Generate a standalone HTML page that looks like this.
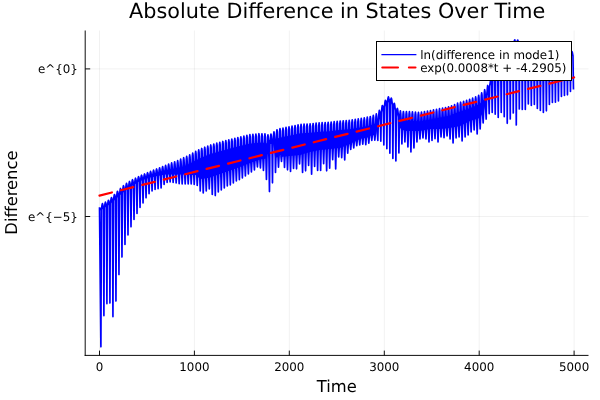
<!DOCTYPE html>
<html><head><meta charset="utf-8"><title>Absolute Difference in States Over Time</title>
<style>html,body{margin:0;padding:0;background:#fff;overflow:hidden}svg{position:absolute;left:0;top:0}</style></head>
<body>
<svg width="600" height="400" viewBox="0 0 600 400" style="display:block;font-family:'DejaVu Sans','Liberation Sans',sans-serif" text-rendering="geometricPrecision">
<rect width="600" height="400" fill="#fff"/>
<path d="M99.50 30.5 V355.4 M194.40 30.5 V355.4 M289.30 30.5 V355.4 M384.30 30.5 V355.4 M479.20 30.5 V355.4 M574.10 30.5 V355.4 M85.2 68.9 H588.5 M85.2 216.5 H588.5" stroke="#000" stroke-opacity="0.1" stroke-width="0.55" fill="none"/>
<clipPath id="c"><rect x="85.2" y="30.5" width="503.3" height="324.9"/></clipPath>
<g clip-path="url(#c)"><path d="M100.0 208.08 L101.0 207.46 L102.0 206.84 L103.0 206.27 L104.0 205.69 L105.0 205.11 L106.0 204.48 L107.0 203.84 L108.0 203.20 L109.0 202.46 L110.0 201.71 L111.0 200.81 L112.0 199.88 L113.0 198.95 L114.0 197.98 L115.0 196.96 L116.0 195.94 L117.0 194.98 L118.0 194.08 L119.0 193.18 L120.0 192.26 L121.0 191.39 L122.0 190.51 L123.0 189.67 L124.0 188.86 L125.0 188.05 L126.0 187.27 L127.0 186.53 L128.0 185.79 L129.0 185.08 L130.0 184.37 L131.0 183.78 L132.0 183.18 L133.0 182.59 L134.0 181.99 L135.0 181.48 L136.0 180.97 L137.0 180.46 L138.0 179.86 L139.0 179.26 L140.0 178.66 L141.0 178.29 L142.0 177.91 L143.0 177.54 L144.0 177.17 L145.0 176.80 L146.0 176.41 L147.0 176.03 L148.0 175.64 L149.0 175.26 L150.0 174.88 L151.0 174.57 L152.0 174.27 L153.0 173.97 L154.0 173.69 L155.0 173.40 L156.0 173.10 L157.0 172.81 L158.0 172.53 L159.0 172.23 L160.0 171.94 L161.0 171.66 L162.0 171.36 L163.0 171.08 L164.0 170.78 L165.0 170.50 L166.0 170.31 L167.0 170.13 L168.0 169.96 L169.0 169.78 L170.0 169.59 L171.0 169.41 L172.0 169.23 L173.0 169.06 L174.0 168.88 L175.0 168.69 L176.0 168.51 L177.0 168.33 L178.0 168.14 L179.0 167.93 L180.0 167.72 L181.0 167.53 L182.0 167.33 L183.0 167.03 L184.0 166.57 L185.0 166.10 L186.0 165.60 L187.0 165.10 L188.0 164.60 L189.0 164.10 L190.0 163.60 L191.0 163.04 L192.0 162.48 L193.0 161.92 L194.0 161.36 L195.0 160.80 L196.0 160.28 L197.0 159.76 L198.0 159.24 L199.0 158.72 L200.0 158.20 L201.0 157.78 L202.0 157.36 L203.0 156.94 L204.0 156.52 L205.0 156.10 L206.0 155.72 L207.0 155.34 L208.0 154.96 L209.0 154.58 L210.0 154.20 L211.0 153.90 L212.0 153.60 L213.0 153.30 L214.0 153.00 L215.0 152.70 L216.0 152.40 L217.0 152.10 L218.0 151.80 L219.0 151.50 L220.0 151.20 L221.0 150.94 L222.0 150.68 L223.0 150.42 L224.0 150.16 L225.0 149.90 L226.0 149.64 L227.0 149.38 L228.0 149.12 L229.0 148.86 L230.0 148.60 L231.0 148.34 L232.0 148.08 L233.0 147.82 L234.0 147.56 L235.0 147.30 L236.0 147.04 L237.0 146.78 L238.0 146.52 L239.0 146.26 L240.0 146.00 L241.0 145.76 L242.0 145.52 L243.0 145.28 L244.0 145.04 L245.0 144.80 L246.0 144.56 L247.0 144.32 L248.0 144.08 L249.0 143.84 L250.0 143.60 L251.0 143.50 L252.0 143.40 L253.0 143.30 L254.0 143.20 L255.0 143.10 L256.0 143.00 L257.0 142.90 L258.0 142.80 L259.0 142.70 L260.0 142.60 L261.0 142.67 L262.0 142.73 L263.0 142.80 L264.0 142.87 L265.0 142.93 L266.0 143.00 L267.0 143.44 L268.0 139.90 L269.0 139.92 L270.0 139.77 L271.0 139.54 L272.0 139.32 L273.0 138.93 L274.0 140.85 L275.0 139.97 L276.0 139.10 L277.0 138.72 L278.0 138.35 L279.0 137.97 L280.0 137.60 L281.0 137.40 L282.0 137.20 L283.0 137.00 L284.0 136.80 L285.0 136.60 L286.0 136.40 L287.0 136.20 L288.0 136.00 L289.0 135.80 L290.0 135.60 L291.0 135.38 L292.0 135.16 L293.0 134.94 L294.0 134.72 L295.0 134.50 L296.0 134.28 L297.0 134.06 L298.0 133.84 L299.0 133.62 L300.0 133.40 L301.0 133.34 L302.0 133.28 L303.0 133.22 L304.0 133.16 L305.0 133.10 L306.0 133.04 L307.0 132.98 L308.0 132.92 L309.0 132.86 L310.0 132.80 L311.0 132.70 L312.0 132.60 L313.0 132.50 L314.0 132.40 L315.0 132.30 L316.0 132.20 L317.0 132.10 L318.0 132.00 L319.0 131.90 L320.0 131.80 L321.0 131.74 L322.0 131.68 L323.0 131.62 L324.0 131.56 L325.0 131.50 L326.0 131.44 L327.0 131.38 L328.0 131.32 L329.0 131.26 L330.0 131.20 L331.0 131.08 L332.0 130.96 L333.0 130.84 L334.0 130.72 L335.0 130.60 L336.0 130.48 L337.0 130.36 L338.0 130.24 L339.0 130.12 L340.0 130.00 L341.0 129.92 L342.0 129.84 L343.0 129.76 L344.0 129.68 L345.0 129.60 L346.0 129.52 L347.0 129.44 L348.0 129.36 L349.0 129.28 L350.0 129.20 L351.0 129.04 L352.0 128.88 L353.0 128.72 L354.0 128.56 L355.0 128.40 L356.0 128.24 L357.0 128.08 L358.0 127.92 L359.0 127.76 L360.0 127.60 L361.0 127.40 L362.0 127.20 L363.0 127.00 L364.0 126.80 L365.0 126.60 L366.0 126.40 L367.0 126.20 L368.0 126.00 L369.0 125.80 L370.0 125.60 L371.0 125.20 L372.0 124.80 L373.0 124.40 L374.0 124.00 L375.0 123.60 L376.0 123.20 L377.0 121.38 L378.0 117.12 L379.0 114.19 L380.0 112.57 L381.0 110.82 L382.0 109.07 L383.0 107.32 L384.0 105.57 L385.0 103.90 L386.0 102.24 L387.0 100.57 L388.0 100.04 L389.0 99.50 L390.0 98.97 L391.0 100.50 L392.0 102.04 L393.0 103.57 L394.0 105.57 L395.0 107.57 L396.0 109.57 L397.0 111.55 L398.0 113.52 L399.0 118.15 L400.0 119.80 L401.0 120.00 L402.0 120.20 L403.0 120.40 L404.0 120.60 L405.0 120.60 L406.0 120.60 L407.0 120.60 L408.0 120.60 L409.0 120.60 L410.0 120.60 L411.0 120.68 L412.0 120.76 L413.0 120.84 L414.0 120.92 L415.0 121.00 L416.0 121.08 L417.0 121.16 L418.0 121.24 L419.0 121.32 L420.0 121.40 L421.0 121.22 L422.0 121.04 L423.0 120.86 L424.0 120.68 L425.0 120.50 L426.0 120.32 L427.0 120.14 L428.0 119.96 L429.0 119.78 L430.0 119.60 L431.0 119.40 L432.0 119.20 L433.0 119.00 L434.0 118.80 L435.0 118.60 L436.0 118.40 L437.0 118.20 L438.0 118.00 L439.0 117.80 L440.0 117.60 L441.0 117.40 L442.0 117.20 L443.0 117.00 L444.0 116.80 L445.0 116.60 L446.0 116.40 L447.0 116.20 L448.0 116.00 L449.0 115.80 L450.0 115.60 L451.0 115.15 L452.0 114.70 L453.0 114.25 L454.0 113.80 L455.0 113.35 L456.0 112.90 L457.0 112.45 L458.0 112.00 L459.0 111.70 L460.0 111.40 L461.0 111.10 L462.0 110.80 L463.0 110.50 L464.0 110.20 L465.0 109.90 L466.0 109.60 L467.0 109.22 L468.0 108.85 L469.0 108.47 L470.0 108.10 L471.0 107.72 L472.0 107.35 L473.0 106.97 L474.0 106.60 L475.0 106.10 L476.0 105.60 L477.0 105.10 L478.0 104.60 L479.0 104.10 L480.0 103.60 L481.0 102.60 L482.0 101.60 L483.0 100.60 L484.0 99.60 L485.0 97.92 L486.0 94.57 L487.0 91.22 L488.0 87.99 L489.0 85.47 L490.0 83.80 L491.0 82.00 L492.0 80.20 L493.0 78.40 L494.0 76.60 L495.0 74.80 L496.0 72.80 L497.0 70.80 L498.0 68.80 L499.0 66.81 L500.0 65.02 L501.0 63.02 L502.0 61.02 L503.0 59.02 L504.0 57.02 L505.0 55.02 L506.0 53.42 L507.0 51.82 L508.0 50.22 L509.0 48.62 L510.0 47.02 L511.0 45.91 L512.0 44.80 L513.0 43.69 L514.0 42.58 L515.0 42.30 L516.0 43.30 L517.0 42.30 L518.0 42.82 L519.0 44.42 L520.0 46.02 L521.0 47.42 L522.0 48.82 L523.0 50.22 L524.0 51.62 L525.0 53.02 L526.0 54.22 L527.0 55.42 L528.0 56.62 L529.0 57.82 L530.0 59.02 L531.0 59.42 L532.0 59.82 L533.0 60.22 L534.0 60.62 L535.0 61.02 L536.0 61.42 L537.0 61.82 L538.0 62.22 L539.0 62.62 L540.0 63.02 L541.0 63.02 L542.0 63.02 L543.0 63.02 L544.0 63.02 L545.0 63.02 L546.0 63.02 L547.0 63.02 L548.0 63.02 L549.0 63.02 L550.0 63.02 L551.0 62.72 L552.0 62.42 L553.0 62.12 L554.0 61.82 L555.0 61.52 L556.0 61.22 L557.0 60.92 L558.0 60.62 L559.0 60.32 L560.0 60.02 L561.0 59.52 L562.0 59.02 L563.0 58.52 L564.0 58.02 L565.0 57.52 L566.0 57.02 L567.0 56.52 L568.0 56.02 L569.0 55.52 L570.0 55.02 L571.0 54.52 L572.0 54.02 L573.0 53.60 L573.0 55.58 L572.0 56.00 L571.0 56.50 L570.0 57.00 L569.0 57.50 L568.0 58.00 L567.0 58.50 L566.0 59.00 L565.0 59.50 L564.0 60.00 L563.0 60.50 L562.0 61.00 L561.0 61.50 L560.0 62.00 L559.0 62.30 L558.0 62.60 L557.0 62.90 L556.0 63.20 L555.0 63.50 L554.0 63.80 L553.0 64.10 L552.0 64.40 L551.0 64.70 L550.0 65.00 L549.0 65.00 L548.0 65.00 L547.0 65.00 L546.0 65.00 L545.0 65.00 L544.0 65.00 L543.0 65.00 L542.0 65.00 L541.0 65.00 L540.0 65.00 L539.0 64.60 L538.0 64.20 L537.0 63.80 L536.0 63.40 L535.0 63.00 L534.0 62.60 L533.0 62.20 L532.0 61.80 L531.0 61.40 L530.0 61.00 L529.0 59.80 L528.0 58.60 L527.0 57.40 L526.0 56.20 L525.0 55.00 L524.0 53.60 L523.0 52.20 L522.0 50.80 L521.0 49.40 L520.0 48.00 L519.0 46.40 L518.0 44.80 L517.0 44.10 L516.0 45.10 L515.0 44.10 L514.0 44.56 L513.0 45.67 L512.0 46.78 L511.0 47.89 L510.0 49.00 L509.0 50.60 L508.0 52.20 L507.0 53.80 L506.0 55.40 L505.0 57.00 L504.0 59.00 L503.0 61.00 L502.0 63.00 L501.0 65.00 L500.0 67.00 L499.0 68.62 L498.0 70.60 L497.0 72.60 L496.0 74.60 L495.0 76.60 L494.0 78.40 L493.0 80.20 L492.0 82.00 L491.0 83.80 L490.0 85.60 L489.0 87.27 L488.0 90.50 L487.0 95.00 L486.0 100.00 L485.0 105.00 L484.0 110.00 L483.0 112.00 L482.0 114.00 L481.0 116.00 L480.0 118.00 L479.0 118.30 L478.0 118.60 L477.0 118.90 L476.0 119.20 L475.0 119.50 L474.0 119.80 L473.0 120.10 L472.0 120.40 L471.0 120.70 L470.0 121.00 L469.0 121.50 L468.0 122.00 L467.0 122.50 L466.0 123.00 L465.0 123.50 L464.0 124.00 L463.0 124.50 L462.0 125.00 L461.0 125.50 L460.0 126.00 L459.0 126.20 L458.0 126.40 L457.0 126.60 L456.0 126.80 L455.0 127.00 L454.0 127.20 L453.0 127.40 L452.0 127.60 L451.0 127.80 L450.0 128.00 L449.0 128.10 L448.0 128.20 L447.0 128.30 L446.0 128.40 L445.0 128.50 L444.0 128.60 L443.0 128.70 L442.0 128.80 L441.0 128.90 L440.0 129.00 L439.0 129.00 L438.0 129.00 L437.0 129.00 L436.0 129.00 L435.0 129.00 L434.0 129.00 L433.0 129.00 L432.0 129.00 L431.0 129.00 L430.0 129.00 L429.0 129.20 L428.0 129.40 L427.0 129.60 L426.0 129.80 L425.0 130.00 L424.0 130.20 L423.0 130.40 L422.0 130.60 L421.0 130.80 L420.0 131.00 L419.0 131.00 L418.0 131.00 L417.0 131.00 L416.0 131.00 L415.0 131.00 L414.0 131.00 L413.0 131.00 L412.0 131.00 L411.0 131.00 L410.0 131.00 L409.0 131.00 L408.0 131.00 L407.0 131.00 L406.0 131.00 L405.0 131.00 L404.0 130.45 L403.0 129.91 L402.0 129.36 L401.0 128.82 L400.0 128.27 L399.0 124.33 L398.0 117.00 L397.0 114.50 L396.0 112.00 L395.0 110.00 L394.0 108.00 L393.0 106.00 L392.0 104.47 L391.0 102.93 L390.0 101.40 L389.0 101.93 L388.0 102.47 L387.0 103.00 L386.0 104.67 L385.0 106.33 L384.0 108.00 L383.0 109.75 L382.0 111.50 L381.0 113.25 L380.0 115.00 L379.0 117.00 L378.0 121.40 L377.0 128.20 L376.0 135.00 L375.0 135.08 L374.0 135.16 L373.0 135.24 L372.0 135.56 L371.0 135.64 L370.0 135.72 L369.0 137.20 L368.0 137.40 L367.0 137.60 L366.0 137.80 L365.0 138.00 L364.0 138.20 L363.0 138.40 L362.0 138.60 L361.0 138.80 L360.0 139.00 L359.0 139.50 L358.0 140.00 L357.0 140.42 L356.0 141.00 L355.0 141.50 L354.0 142.00 L353.0 142.34 L352.0 143.00 L351.0 143.50 L350.0 144.00 L349.0 144.40 L348.0 144.80 L347.0 145.20 L346.0 145.60 L345.0 146.00 L344.0 146.40 L343.0 146.80 L342.0 147.20 L341.0 147.60 L340.0 148.00 L339.0 148.10 L338.0 148.20 L337.0 148.30 L336.0 148.40 L335.0 148.50 L334.0 148.60 L333.0 148.70 L332.0 148.80 L331.0 148.90 L330.0 149.00 L329.0 149.10 L328.0 149.20 L327.0 149.30 L326.0 149.40 L325.0 149.50 L324.0 149.60 L323.0 149.70 L322.0 149.80 L321.0 149.90 L320.0 150.00 L319.0 150.20 L318.0 150.40 L317.0 150.60 L316.0 150.80 L315.0 151.00 L314.0 151.20 L313.0 151.40 L312.0 151.60 L311.0 151.80 L310.0 152.00 L309.0 152.30 L308.0 152.60 L307.0 152.90 L306.0 153.20 L305.0 153.50 L304.0 153.80 L303.0 154.10 L302.0 154.40 L301.0 154.70 L300.0 155.00 L299.0 155.10 L298.0 155.20 L297.0 155.30 L296.0 155.40 L295.0 155.50 L294.0 155.60 L293.0 155.70 L292.0 155.80 L291.0 155.90 L290.0 156.00 L289.0 156.10 L288.0 156.20 L287.0 156.30 L286.0 156.40 L285.0 156.50 L284.0 156.60 L283.0 156.70 L282.0 156.80 L281.0 154.88 L280.0 154.92 L279.0 157.10 L278.0 157.20 L277.0 157.30 L276.0 157.40 L275.0 157.50 L274.0 148.50 L273.0 144.00 L272.0 144.00 L271.0 144.00 L270.0 144.00 L269.0 144.00 L268.0 144.00 L267.0 153.67 L266.0 158.58 L265.0 158.73 L264.0 158.88 L263.0 159.04 L262.0 159.19 L261.0 159.35 L260.0 159.50 L259.0 159.85 L258.0 160.20 L257.0 160.38 L256.0 160.90 L255.0 161.25 L254.0 161.60 L253.0 161.95 L252.0 162.30 L251.0 162.65 L250.0 163.00 L249.0 163.40 L248.0 163.80 L247.0 164.20 L246.0 164.60 L245.0 165.00 L244.0 165.40 L243.0 165.80 L242.0 166.20 L241.0 166.60 L240.0 167.00 L239.0 167.35 L238.0 167.70 L237.0 168.05 L236.0 168.40 L235.0 168.75 L234.0 169.10 L233.0 169.45 L232.0 169.80 L231.0 170.15 L230.0 170.50 L229.0 170.85 L228.0 171.20 L227.0 171.55 L226.0 171.90 L225.0 172.25 L224.0 172.60 L223.0 172.95 L222.0 173.30 L221.0 173.65 L220.0 174.00 L219.0 174.35 L218.0 174.70 L217.0 175.05 L216.0 175.40 L215.0 175.75 L214.0 176.10 L213.0 176.45 L212.0 176.80 L211.0 177.15 L210.0 177.50 L209.0 177.69 L208.0 177.88 L207.0 178.06 L206.0 178.25 L205.0 178.44 L204.0 178.62 L203.0 178.81 L202.0 179.00 L201.0 178.67 L200.0 178.33 L199.0 178.00 L198.0 177.00 L197.0 176.00 L196.0 175.00 L195.0 174.97 L194.0 174.94 L193.0 174.91 L192.0 174.88 L191.0 174.84 L190.0 174.81 L189.0 174.78 L188.0 174.75 L187.0 174.72 L186.0 174.69 L185.0 174.66 L184.0 174.62 L183.0 174.59 L182.0 174.56 L181.0 174.53 L180.0 174.50 L179.0 174.50 L178.0 174.50 L177.0 174.50 L176.0 174.50 L175.0 174.50 L174.0 174.50 L173.0 174.50 L172.0 174.50 L171.0 174.50 L170.0 174.50 L169.0 174.50 L168.0 174.50 L167.0 174.50 L166.0 174.50 L165.0 174.50 L164.0 174.70 L163.0 174.90 L162.0 175.10 L161.0 175.30 L160.0 175.50 L159.0 175.70 L158.0 175.90 L157.0 176.10 L156.0 176.30 L155.0 176.50 L154.0 176.70 L153.0 176.90 L152.0 177.10 L151.0 177.30 L150.0 177.50 L149.0 177.85 L148.0 178.20 L147.0 178.55 L146.0 178.90 L145.0 179.25 L144.0 179.60 L143.0 179.95 L142.0 180.30 L141.0 180.65 L140.0 181.00 L139.0 181.60 L138.0 182.20 L137.0 182.80 L136.0 183.40 L135.0 184.00 L134.0 184.60 L133.0 185.20 L132.0 185.80 L131.0 186.40 L130.0 187.00 L129.0 187.80 L128.0 188.60 L127.0 189.40 L126.0 190.20 L125.0 191.00 L124.0 191.80 L123.0 192.60 L122.0 193.40 L121.0 194.20 L120.0 195.00 L119.0 195.90 L118.0 196.80 L117.0 197.70 L116.0 198.60 L115.0 199.50 L114.0 200.40 L113.0 201.30 L112.0 202.20 L111.0 203.10 L110.0 204.00 L109.0 204.67 L108.0 205.33 L107.0 206.00 L106.0 206.67 L105.0 207.33 L104.0 208.00 L103.0 208.67 L102.0 209.33 L101.0 210.00 L100.0 210.67Z" fill="#0000ff"/><path d="M99.50 207.20 L100.90 346.80 L101.40 209.79 L102.04 204.91 L102.40 203.61 L102.76 204.58 L103.40 208.80 L103.91 315.60 L104.41 207.83 L105.05 203.40 L105.41 202.15 L105.77 202.97 L106.41 206.71 L106.92 303.60 L107.42 205.75 L108.06 201.51 L108.42 200.24 L108.78 200.90 L109.42 204.20 L109.93 303.00 L110.43 203.62 L111.07 198.96 L111.43 197.60 L111.79 198.27 L112.43 201.71 L112.94 316.60 L113.44 200.87 L114.08 195.97 L114.44 194.50 L114.80 195.13 L115.44 198.55 L115.95 301.00 L116.45 198.06 L117.09 192.75 L117.45 191.25 L117.81 192.10 L118.45 196.25 L118.96 274.40 L119.46 195.49 L120.10 190.03 L120.46 188.47 L120.82 189.34 L121.46 193.56 L121.97 257.00 L122.47 192.95 L123.11 187.29 L123.47 185.71 L123.83 186.69 L124.47 191.28 L124.98 244.40 L125.48 190.61 L126.12 184.93 L126.48 183.38 L126.84 184.45 L127.48 189.28 L127.99 235.00 L128.49 188.28 L129.13 182.92 L129.49 181.46 L129.85 182.50 L130.49 187.11 L131.00 226.80 L131.50 186.11 L132.14 181.07 L132.50 179.69 L132.86 180.64 L133.50 184.92 L134.01 219.50 L134.51 184.39 L135.15 179.50 L135.51 178.20 L135.87 179.21 L136.51 183.59 L137.02 213.50 L137.52 182.49 L138.16 177.94 L138.52 176.69 L138.88 177.51 L139.52 181.29 L140.03 207.50 L140.53 180.79 L141.17 176.37 L141.53 175.19 L141.89 176.08 L142.53 179.99 L143.04 203.00 L143.54 179.74 L144.18 175.20 L144.54 173.98 L144.90 174.91 L145.54 178.92 L146.05 197.84 L146.55 178.67 L147.19 173.97 L147.55 172.71 L147.91 173.66 L148.55 177.82 L149.06 193.60 L149.56 177.62 L150.20 172.73 L150.56 171.43 L150.92 172.43 L151.56 176.76 L152.07 191.00 L152.57 176.87 L153.21 171.58 L153.57 170.17 L153.93 171.29 L154.57 176.07 L155.08 189.50 L155.58 176.28 L156.22 170.50 L156.58 168.97 L156.94 170.21 L157.58 175.48 L158.09 188.72 L158.59 175.68 L159.23 169.41 L159.59 167.76 L159.95 169.12 L160.59 174.88 L161.10 188.00 L161.60 175.08 L162.24 168.33 L162.60 166.56 L162.96 168.04 L163.60 174.28 L164.11 184.40 L164.61 174.48 L165.25 167.24 L165.61 165.36 L165.97 166.96 L166.61 173.68 L167.12 182.50 L167.62 174.30 L168.26 166.25 L168.62 164.15 L168.98 165.96 L169.62 173.50 L170.13 182.00 L170.63 174.30 L171.27 165.28 L171.63 162.95 L171.99 164.99 L172.63 173.50 L173.14 182.50 L173.64 174.30 L174.28 164.32 L174.64 161.74 L175.00 164.03 L175.64 173.50 L176.15 183.00 L176.65 174.30 L177.29 163.28 L177.65 160.53 L178.01 162.96 L178.65 173.42 L179.16 183.75 L179.66 174.27 L180.30 161.89 L180.66 159.13 L181.02 161.56 L181.66 173.33 L182.17 184.00 L182.67 174.33 L183.31 160.49 L183.67 157.72 L184.03 160.15 L184.67 173.40 L185.18 184.00 L185.68 174.41 L186.32 159.04 L186.68 156.26 L187.04 158.68 L187.68 173.41 L188.19 184.00 L188.69 174.51 L189.33 157.53 L189.69 154.75 L190.05 157.17 L190.69 173.46 L191.20 184.00 L191.70 174.57 L192.34 155.89 L192.70 153.09 L193.06 155.49 L193.70 173.45 L194.21 184.50 L194.71 174.66 L195.35 154.22 L195.71 151.43 L196.07 153.84 L196.71 173.61 L197.22 185.52 L197.72 175.96 L198.36 152.65 L198.72 149.87 L199.08 152.28 L199.72 174.92 L200.23 191.00 L200.73 178.20 L201.37 151.22 L201.73 148.47 L202.09 150.92 L202.73 177.36 L203.24 193.00 L203.74 178.56 L204.38 149.96 L204.74 147.21 L205.10 149.66 L205.74 177.75 L206.25 191.00 L206.75 178.01 L207.39 148.79 L207.75 146.05 L208.11 148.52 L208.75 177.25 L209.26 189.00 L209.76 177.45 L210.40 147.68 L210.76 144.97 L211.12 147.46 L211.76 176.83 L212.27 194.40 L212.77 176.56 L213.41 146.78 L213.77 144.07 L214.13 146.56 L214.77 175.96 L215.28 195.60 L215.78 175.50 L216.42 145.87 L216.78 143.17 L217.14 145.66 L217.78 174.90 L218.29 192.00 L218.79 174.45 L219.43 144.97 L219.79 142.26 L220.15 144.76 L220.79 173.88 L221.30 190.00 L221.80 173.41 L222.44 144.17 L222.80 141.47 L223.16 143.98 L223.80 172.89 L224.31 188.00 L224.81 172.36 L225.45 143.38 L225.81 140.69 L226.17 143.20 L226.81 171.84 L227.32 186.00 L227.82 171.31 L228.46 142.60 L228.82 139.91 L229.18 142.41 L229.82 170.79 L230.33 185.00 L230.83 170.25 L231.47 141.82 L231.83 139.12 L232.19 141.63 L232.83 169.73 L233.34 183.00 L233.84 169.20 L234.48 141.04 L234.84 138.34 L235.20 140.85 L235.84 168.68 L236.35 181.00 L236.85 168.15 L237.49 140.25 L237.85 137.56 L238.21 140.07 L238.85 167.63 L239.36 179.60 L239.86 167.09 L240.50 139.48 L240.86 136.79 L241.22 139.31 L241.86 166.61 L242.37 178.00 L242.87 165.93 L243.51 138.76 L243.87 136.07 L244.23 138.58 L244.87 165.45 L245.38 176.00 L245.88 164.73 L246.52 138.04 L246.88 135.35 L247.24 137.86 L247.88 164.25 L248.39 174.00 L248.89 163.52 L249.53 137.31 L249.89 134.63 L250.25 137.17 L250.89 163.17 L251.40 172.00 L251.90 162.46 L252.54 136.95 L252.90 134.31 L253.26 136.87 L253.90 162.26 L254.41 170.00 L254.91 161.41 L255.55 136.64 L255.91 134.01 L256.27 136.57 L256.91 161.21 L257.42 167.00 L257.92 160.32 L258.56 136.34 L258.92 133.71 L259.28 136.27 L259.92 160.12 L260.43 168.00 L260.93 159.47 L261.57 136.30 L261.93 133.73 L262.29 136.35 L262.93 159.60 L263.44 170.50 L263.94 159.00 L264.58 136.51 L264.94 133.93 L265.30 136.55 L265.94 159.14 L266.45 179.50 L266.95 158.73 L267.59 137.30 L267.95 134.86 L268.31 137.62 L268.95 159.26 L269.46 191.60 L269.96 143.83 L270.60 136.14 L270.96 134.12 L271.32 135.78 L271.96 142.84 L272.47 182.80 L272.97 143.56 L273.61 134.35 L273.97 131.88 L274.33 133.72 L274.97 141.81 L275.48 172.50 L275.98 157.01 L276.62 132.47 L276.98 129.73 L277.34 132.20 L277.98 156.25 L278.49 167.20 L278.99 156.96 L279.63 131.34 L279.99 128.60 L280.35 131.13 L280.99 156.39 L281.50 161.50 L282.00 154.76 L282.64 130.67 L283.00 128.00 L283.36 130.53 L284.00 154.36 L284.51 167.50 L285.01 156.45 L285.65 130.07 L286.01 127.40 L286.37 129.93 L287.01 156.05 L287.52 169.80 L288.02 156.15 L288.66 129.47 L289.02 126.80 L289.38 129.32 L290.02 155.75 L290.53 171.50 L291.03 155.84 L291.67 128.83 L292.03 126.15 L292.39 128.67 L293.03 155.40 L293.54 168.50 L294.04 155.54 L294.68 128.17 L295.04 125.49 L295.40 128.01 L296.04 155.10 L296.55 168.80 L297.05 155.24 L297.69 127.51 L298.05 124.83 L298.41 127.35 L299.05 154.80 L299.56 164.00 L300.06 154.94 L300.70 126.96 L301.06 124.34 L301.42 126.91 L302.06 154.82 L302.57 172.50 L303.07 154.20 L303.71 126.78 L304.07 124.16 L304.43 126.73 L305.07 154.08 L305.58 170.80 L306.08 153.30 L306.72 126.60 L307.08 123.98 L307.44 126.55 L308.08 153.18 L308.59 165.50 L309.09 152.39 L309.73 126.42 L310.09 123.79 L310.45 126.35 L311.09 152.23 L311.60 174.20 L312.10 151.63 L312.74 126.13 L313.10 123.49 L313.46 126.05 L314.10 151.43 L314.61 166.50 L315.11 151.03 L315.75 125.82 L316.11 123.19 L316.47 125.75 L317.11 150.83 L317.62 170.50 L318.12 150.43 L318.76 125.52 L319.12 122.89 L319.48 125.45 L320.12 150.23 L320.63 170.50 L321.13 149.91 L321.77 125.29 L322.13 122.67 L322.49 125.25 L323.13 149.79 L323.64 163.75 L324.14 149.61 L324.78 125.11 L325.14 122.49 L325.50 125.07 L326.14 149.49 L326.65 170.80 L327.15 149.31 L327.79 124.93 L328.15 122.31 L328.51 124.89 L329.15 149.19 L329.66 168.25 L330.16 148.99 L330.80 124.70 L331.16 122.06 L331.52 124.62 L332.16 148.75 L332.67 159.70 L333.17 148.67 L333.81 124.34 L334.17 121.70 L334.53 124.26 L335.17 148.43 L335.68 169.00 L336.18 148.37 L336.82 123.98 L337.18 121.34 L337.54 123.90 L338.18 148.13 L338.69 157.00 L339.19 148.07 L339.83 123.62 L340.19 120.98 L340.55 123.56 L341.19 147.88 L341.70 157.75 L342.20 147.28 L342.84 123.37 L343.20 120.74 L343.56 123.32 L344.20 147.12 L344.71 160.00 L345.21 146.08 L345.85 123.13 L346.21 120.50 L346.57 123.07 L347.21 145.92 L347.72 153.25 L348.22 144.87 L348.86 122.89 L349.22 120.26 L349.58 122.83 L350.22 144.69 L350.73 149.50 L351.23 143.54 L351.87 122.50 L352.23 119.84 L352.59 122.39 L353.23 143.22 L353.74 148.00 L354.24 142.05 L354.88 122.02 L355.24 119.36 L355.60 121.90 L356.24 141.73 L356.75 145.75 L357.25 140.34 L357.89 121.54 L358.25 118.88 L358.61 121.42 L359.25 140.02 L359.76 144.85 L360.26 139.03 L360.90 121.02 L361.26 118.35 L361.62 120.88 L362.26 138.63 L362.77 144.25 L363.27 138.35 L363.91 120.42 L364.27 117.75 L364.63 120.27 L365.27 137.95 L365.78 144.63 L366.28 137.74 L366.92 119.82 L367.28 117.14 L367.64 119.67 L368.28 137.34 L368.79 143.15 L369.29 137.14 L369.93 119.21 L370.29 116.48 L370.65 118.94 L371.29 136.48 L371.80 140.50 L372.30 135.38 L372.94 118.02 L373.30 115.28 L373.66 117.74 L374.30 134.58 L374.81 140.20 L375.31 134.90 L375.95 116.82 L376.31 113.84 L376.67 116.03 L377.31 133.11 L377.82 140.50 L378.32 122.05 L378.96 112.90 L379.32 110.38 L379.68 112.07 L380.32 119.56 L380.83 141.25 L381.33 112.67 L381.97 107.23 L382.33 105.52 L382.69 105.97 L383.33 109.17 L383.84 145.00 L384.34 107.43 L384.98 102.05 L385.34 100.37 L385.70 100.85 L386.34 104.10 L386.85 148.75 L387.35 102.81 L387.99 98.15 L388.35 96.88 L388.71 97.77 L389.35 101.75 L389.86 153.25 L390.36 101.95 L391.00 98.61 L391.36 98.09 L391.72 99.72 L392.36 105.02 L392.87 158.50 L393.37 106.74 L394.01 103.70 L394.37 103.34 L394.73 105.14 L395.37 110.74 L395.88 161.00 L396.38 112.51 L397.02 109.04 L397.38 108.44 L397.74 110.00 L398.38 115.17 L398.89 153.00 L399.39 123.75 L400.03 113.41 L400.39 110.88 L400.75 113.55 L401.39 124.15 L401.90 144.00 L402.40 129.41 L403.04 114.01 L403.40 111.48 L403.76 114.15 L404.40 129.73 L404.91 142.00 L405.41 130.95 L406.05 114.20 L406.41 111.60 L406.77 114.20 L407.41 130.95 L407.92 147.00 L408.42 131.00 L409.06 114.20 L409.42 111.60 L409.78 114.20 L410.42 131.03 L410.93 152.00 L411.43 131.04 L412.07 114.37 L412.43 111.79 L412.79 114.42 L413.43 131.20 L413.94 148.00 L414.44 131.04 L415.08 114.61 L415.44 112.04 L415.80 114.66 L416.44 131.20 L416.95 142.00 L417.45 131.04 L418.09 114.85 L418.45 112.28 L418.81 114.90 L419.45 131.20 L419.96 139.00 L420.46 130.92 L421.10 114.80 L421.46 112.14 L421.82 114.67 L422.46 130.56 L422.97 138.00 L423.47 130.32 L424.11 114.26 L424.47 111.60 L424.83 114.13 L425.47 129.96 L425.98 138.95 L426.48 129.71 L427.12 113.72 L427.48 111.05 L427.84 113.59 L428.48 129.35 L428.99 142.03 L429.49 129.11 L430.13 113.17 L430.49 110.50 L430.85 113.03 L431.49 128.72 L432.00 140.48 L432.50 128.90 L433.14 112.57 L433.50 109.90 L433.86 112.43 L434.50 128.50 L435.01 138.68 L435.51 128.90 L436.15 111.97 L436.51 109.30 L436.87 111.83 L437.51 128.50 L438.02 142.00 L438.52 128.90 L439.16 111.37 L439.52 108.70 L439.88 111.22 L440.52 128.50 L441.03 137.00 L441.53 128.80 L442.17 110.77 L442.53 108.09 L442.89 110.62 L443.53 128.40 L444.04 137.60 L444.54 128.50 L445.18 110.16 L445.54 107.49 L445.90 110.02 L446.54 128.10 L447.05 136.00 L447.55 128.20 L448.19 109.56 L448.55 106.89 L448.91 109.42 L449.55 127.80 L450.06 139.00 L450.56 127.76 L451.20 108.66 L451.56 105.90 L451.92 108.34 L452.56 126.86 L453.07 143.00 L453.57 127.16 L454.21 107.31 L454.57 104.54 L454.93 106.98 L455.57 126.26 L456.08 138.00 L456.58 126.56 L457.22 105.95 L457.58 103.19 L457.94 105.63 L458.58 125.75 L459.09 137.00 L459.59 126.03 L460.23 104.93 L460.59 102.22 L460.95 104.71 L461.59 125.43 L462.10 141.00 L462.60 124.80 L463.24 104.03 L463.60 101.32 L463.96 103.81 L464.60 124.20 L465.11 137.00 L465.61 123.29 L466.25 103.11 L466.61 100.37 L466.97 102.84 L467.61 122.57 L468.12 135.00 L468.62 121.75 L469.26 101.98 L469.62 99.24 L469.98 101.71 L470.62 121.00 L471.13 132.00 L471.63 120.47 L472.27 100.85 L472.63 98.11 L472.99 100.58 L473.63 119.72 L474.14 130.00 L474.64 119.51 L475.28 99.56 L475.64 96.78 L476.00 99.20 L476.64 118.51 L477.15 134.00 L477.65 118.61 L478.29 98.06 L478.65 95.28 L479.01 97.69 L479.65 117.61 L480.16 129.00 L480.66 117.18 L481.30 95.90 L481.66 92.94 L482.02 95.18 L482.66 115.18 L483.17 122.93 L483.67 111.16 L484.31 92.79 L484.67 89.71 L485.03 91.83 L485.67 108.60 L486.18 119.10 L486.68 98.43 L487.32 88.35 L487.68 85.47 L488.04 87.15 L488.68 95.21 L489.19 113.70 L489.69 86.12 L490.33 81.81 L490.69 80.36 L491.05 80.51 L491.69 82.56 L492.20 112.50 L492.70 80.74 L493.34 76.39 L493.70 74.94 L494.06 75.09 L494.70 77.14 L495.21 114.20 L495.71 75.18 L496.35 70.70 L496.71 69.18 L497.07 69.26 L497.71 71.18 L498.22 117.50 L498.72 69.16 L499.36 64.68 L499.72 63.16 L500.08 63.24 L500.72 65.16 L501.23 112.50 L501.73 63.54 L502.37 58.74 L502.73 57.14 L503.09 57.30 L503.73 59.54 L504.24 116.70 L504.74 57.52 L505.38 52.87 L505.74 51.42 L506.10 51.72 L506.74 54.22 L507.25 123.30 L507.75 52.60 L508.39 48.06 L508.75 46.60 L509.11 46.90 L509.75 49.40 L510.26 119.00 L510.76 48.16 L511.40 43.92 L511.76 42.64 L512.12 43.12 L512.76 45.93 L513.27 113.00 L513.77 44.81 L514.41 40.58 L514.77 39.87 L515.13 41.11 L515.77 45.27 L516.28 125.00 L516.78 44.32 L517.42 40.48 L517.78 40.05 L518.14 41.42 L518.78 45.65 L519.29 109.00 L519.79 47.66 L520.43 45.08 L520.79 44.71 L521.15 46.09 L521.79 50.51 L522.30 109.50 L522.80 51.92 L523.44 49.30 L523.80 48.92 L524.16 50.30 L524.80 54.72 L525.31 109.50 L525.81 55.97 L526.45 53.22 L526.81 52.77 L527.17 54.08 L527.81 58.37 L528.32 104.00 L528.82 59.58 L529.46 56.83 L529.82 56.38 L530.18 57.55 L530.82 61.33 L531.33 105.50 L531.83 61.73 L532.47 58.47 L532.83 57.73 L533.19 58.76 L533.83 62.53 L534.34 104.50 L534.84 62.94 L535.48 59.67 L535.84 58.94 L536.20 59.96 L536.84 63.74 L537.35 108.50 L537.85 64.14 L538.49 60.88 L538.85 60.14 L539.21 61.16 L539.85 64.94 L540.36 110.50 L540.86 65.00 L541.50 61.48 L541.86 60.60 L542.22 61.48 L542.86 65.00 L543.37 112.50 L543.87 65.00 L544.51 61.48 L544.87 60.60 L545.23 61.48 L545.87 65.00 L546.38 110.80 L546.88 65.00 L547.52 61.48 L547.88 60.60 L548.24 61.48 L548.88 65.00 L549.39 104.50 L549.89 65.00 L550.53 61.32 L550.89 60.33 L551.25 61.11 L551.89 64.43 L552.40 102.50 L552.90 64.13 L553.54 60.42 L553.90 59.43 L554.26 60.20 L554.90 63.53 L555.41 102.20 L555.91 63.23 L556.55 59.52 L556.91 58.53 L557.27 59.30 L557.91 62.63 L558.42 101.00 L558.92 62.32 L559.56 58.61 L559.92 57.62 L560.28 58.34 L560.92 61.54 L561.43 96.50 L561.93 61.04 L562.57 57.20 L562.93 56.14 L563.29 56.84 L563.93 60.04 L564.44 95.50 L564.94 59.53 L565.58 55.69 L565.94 54.63 L566.30 55.33 L566.94 58.53 L567.45 94.80 L567.95 58.03 L568.59 54.19 L568.95 53.13 L569.31 53.83 L569.95 57.03 L570.46 91.50 L570.96 56.52 L571.60 52.68 L571.96 51.62 L572.32 52.35 L572.96 55.60 L573.47 89.50" stroke="#0000ff" stroke-width="1.68" fill="none" stroke-linejoin="round"/>
<path d="M99.50 195.56 L574.10 77.48" stroke="#ff0000" stroke-width="2.25" fill="none" stroke-linecap="round" stroke-dasharray="12.75 9.33"/></g>
<path d="M85.2 30.5 V355.9 M84.7 355.4 H588.5 M99.50 355.4 v-4.8 M194.40 355.4 v-4.8 M289.30 355.4 v-4.8 M384.30 355.4 v-4.8 M479.20 355.4 v-4.8 M574.10 355.4 v-4.8 M85.2 68.9 h5 M85.2 216.5 h5" stroke="#000" stroke-width="0.95" fill="none"/>
<text x="99.50" y="371.3" font-size="11.87" text-anchor="middle">0</text>
<text x="194.40" y="371.3" font-size="11.87" text-anchor="middle">1000</text>
<text x="289.30" y="371.3" font-size="11.87" text-anchor="middle">2000</text>
<text x="384.30" y="371.3" font-size="11.87" text-anchor="middle">3000</text>
<text x="479.20" y="371.3" font-size="11.87" text-anchor="middle">4000</text>
<text x="574.10" y="371.3" font-size="11.87" text-anchor="middle">5000</text>
<text x="77.8" y="73.10" font-size="11.87" text-anchor="end">e^{0}</text>
<text x="77.8" y="220.70" font-size="11.87" text-anchor="end">e^{−5}</text>
<text x="337.2" y="17.6" font-size="20.77" text-anchor="middle">Absolute Difference in States Over Time</text>
<text x="336.8" y="391.6" font-size="16.32" text-anchor="middle">Time</text>
<text transform="translate(17 192.6) rotate(-90)" font-size="16.32" text-anchor="middle">Difference</text>
<rect x="376.5" y="41.5" width="195" height="39" fill="#fff" stroke="#000" stroke-width="1"/>
<path d="M381.4 54.55 H416.4" stroke="#0000ff" stroke-width="1.3"/>
<path d="M382.3 67.5 H415.5" stroke="#ff0000" stroke-width="2.1" stroke-linecap="round" stroke-dasharray="15.7 10.9"/>
<text x="420.2" y="58.8" font-size="11.87">ln(difference in mode1)</text>
<text x="420.2" y="71.8" font-size="11.87">exp(0.0008*t + -4.2905)</text>
</svg>
</body></html>
